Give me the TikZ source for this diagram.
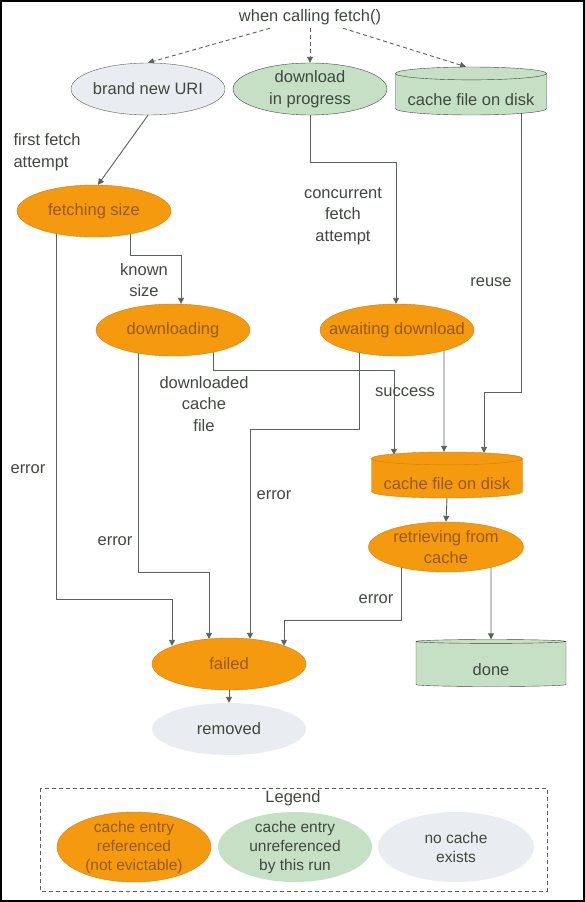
\documentclass[tikz,border=0pt]{standalone}
\usepackage{fontspec}
\setmainfont{Liberation Sans}
\usetikzlibrary{shapes.geometric,arrows.meta,backgrounds,positioning}
\definecolor{cacheorange}{RGB}{245,154,15}
\definecolor{orangeline}{RGB}{205,125,20}
\definecolor{orangetext}{RGB}{150,90,25}
\definecolor{cachegreen}{RGB}{198,224,197}
\definecolor{nocache}{RGB}{233,236,240}
\definecolor{ink}{RGB}{64,72,64}
\definecolor{wire}{RGB}{88,98,88}
\tikzset{
  every node/.style={font=\fontsize{16.5bp}{21.5bp}\selectfont, text=ink},
  state/.style={ellipse, minimum width=154bp, minimum height=52bp,
    inner xsep=-20bp, inner ysep=-10bp, align=center},
  used/.style={state, fill=cacheorange, draw=orangeline, text=orangetext},
  unused/.style={state, fill=cachegreen, draw=ink},
  nofile/.style={state, fill=nocache},
  key/.style={minimum height=70bp, font=\fontsize{15.5bp}{19bp}\selectfont},
  disk/.style={cylinder, shape border rotate=90, aspect=0.1, anchor=shape center,
    minimum width=151bp, minimum height=48bp, inner sep=1bp, draw=ink,
    text height=22bp, text depth=0bp},
  flow/.style={draw=wire, line width=0.9bp, -{Triangle[length=6bp,width=6bp]}},
  try/.style={flow, dash pattern=on 4bp off 3bp}
}
\begin{document}
\begin{tikzpicture}[x=1bp,y=-1bp]
\useasboundingbox (0,0) rectangle (585,902);
\draw[line width=2bp] (1,1) rectangle (584,901);
% states
\node (call) at (310,17) {when calling fetch()};
\node[nofile, draw=wire] (uri) at (148,89) {brand new URI};
\node[unused] (inprog) at (310,89) {download\\in progress};
\node[disk, fill=cachegreen] (ondisk) at (471,91) {cache file on disk};
\node[used] (fetch) at (94,211) {fetching size};
\node[used] (dl) at (173,330) {downloading};
\node[used] (await) at (397,330) {awaiting download};
\node[disk, fill=cacheorange, draw=orangeline, text=orangetext, minimum height=46bp] (cached) at (447,475) {cache file on disk};
\node[used, minimum width=155bp, minimum height=50bp] (retr) at (446,547) {retrieving from\\cache};
\node[used] (fail) at (229,664) {failed};
\node[disk, fill=cachegreen, minimum width=150bp, minimum height=47bp] (done) at (491,663) {done};
\node[nofile] (gone) at (229,729) {removed};
% labels
\node[align=left, anchor=west] (lfirst) at (10,152) {first fetch\\attempt};
\node[align=center] (lknown) at (144,280) {known\\size};
\node[align=center] (lconc) at (343,216) {concurrent\\fetch\\attempt};
\node (lreuse) at (491,282) {reuse};
\node[align=center] (ldone) at (204,404) {downloaded\\cache\\file};
\node (lok) at (405,392) {success};
\node (lerr1) at (28,469) {error};
\node (lerr2) at (115,541) {error};
\node (lerr3) at (274,495) {error};
\node (lerr4) at (376,599) {error};
% connectors
\begin{scope}[on background layer]
\draw[try] ([xshift=-40bp]call.south) -- (uri.north);
\draw[try] (call.south) -- (inprog.north);
\draw[try] ([xshift=33bp]call.south) -- ([xshift=-5bp]ondisk.north);
\draw[flow] (uri.south) -- ([xshift=4bp]fetch.north);
\draw[flow] ([xshift=36bp]fetch.center) -- ++(0,44) -| ([xshift=8bp]dl.north);
\draw[flow] (inprog.south) -- ++(0,47) -| ([xshift=-1bp]await.north);
\draw[flow] ([xshift=50bp]ondisk.shape center) -- ++(0,301) -| ([xshift=37bp,yshift=-1bp]cached.north);
\draw[flow] ([xshift=40bp]dl.center) -- ++(0,40) -| ([xshift=-53bp,yshift=-3bp]cached.north);
\draw[flow] ([xshift=47bp]await.center) -- ([xshift=-3bp]cached.north);
\draw[flow] ([xshift=-38bp]await.center) -- ++(0,99) -| ([xshift=21bp,yshift=-1bp]fail.north);
\draw[flow] ([xshift=-38bp]fetch.center) -- ++(0,388) -| ([xshift=-57bp,yshift=-8bp]fail.north);
\draw[flow] ([xshift=-35bp]dl.center) -- ++(0,242) -| ([xshift=-20bp,yshift=-1bp]fail.north);
\draw[flow] ([xshift=-45bp]retr.center) -- ++(0,73) -| ([xshift=55bp,yshift=-8bp]fail.north);
\draw[flow] ([xshift=45bp]retr.center) -- (done.north);
\draw[flow] (cached.south) -- (retr.north);
\draw[flow] (fail.south) -- (gone.north);
\end{scope}
% legend
\draw[draw=wire, dash pattern=on 4bp off 3bp] (40,788) rectangle (547,891);
\node (legend) at (293,798) {Legend};
\node[used, key] (key1) at (134,847) {cache entry\\referenced\\(not evictable)};
\node[unused, key, draw=none] (key2) at (295,847) {cache entry\\unreferenced\\by this run};
\node[nofile, key, minimum width=156bp] (key3) at (456,847) {no cache\\exists};
\end{tikzpicture}
\end{document}
